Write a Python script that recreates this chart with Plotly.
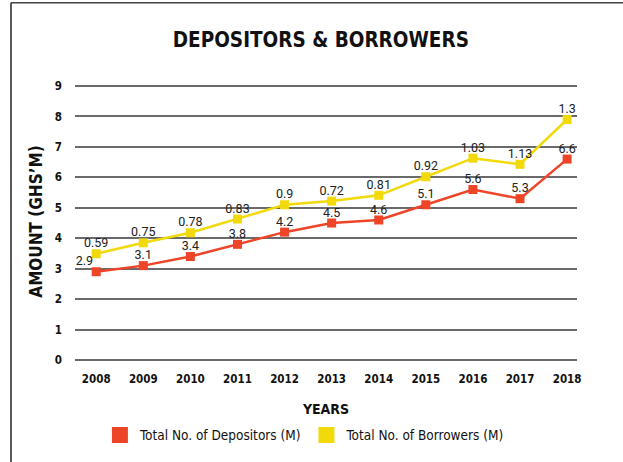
import plotly.graph_objects as go

years = ["2008", "2009", "2010", "2011", "2012", "2013", "2014", "2015", "2016", "2017", "2018"]
depositors = [2.9, 3.1, 3.4, 3.8, 4.2, 4.5, 4.6, 5.1, 5.6, 5.3, 6.6]
borrowers = [0.59, 0.75, 0.78, 0.83, 0.9, 0.72, 0.81, 0.92, 1.03, 1.13, 1.3]
y_ticks = [0, 1, 2, 3, 4, 5, 6, 7, 8, 9]

RED = "#EE4427"
YELLOW = "#F2D90A"
GRID = "#6a6a6a"
FONT = "DejaVu Sans Condensed, sans-serif"
LIGHT = "Roboto, DejaVu Sans Condensed, sans-serif"

# borrowers are stacked on top of depositors
stacked = [d + b for d, b in zip(depositors, borrowers)]

dep_pos = ["top left"] + ["top center"] * (len(years) - 1)

fig = go.Figure()
for ys, col in [(depositors, RED), (stacked, YELLOW)]:
    fig.add_trace(go.Scatter(
        x=years, y=ys, mode="lines+markers",
        line=dict(color=col, width=2.5),
        marker=dict(symbol="square", size=9, color=col),
        showlegend=False, cliponaxis=False, hoverinfo="skip",
    ))

# value labels (invisible small markers keep the text just above each point)
label_font = dict(family=LIGHT, size=12.5, color="#222")
for ys, vals, pos in [(depositors, depositors, dep_pos), (stacked, borrowers, "top center")]:
    fig.add_trace(go.Scatter(
        x=years, y=ys, mode="markers+text",
        marker=dict(size=3.5, opacity=0),
        text=[str(v) for v in vals], textposition=pos,
        textfont=label_font, showlegend=False, cliponaxis=False,
    ))

# legend entries with large square swatches
for name, col in [("Total No. of Depositors (M)", RED), ("Total No. of Borrowers (M)", YELLOW)]:
    fig.add_trace(go.Scatter(
        x=[None], y=[None], mode="markers", name=name,
        marker=dict(symbol="square", size=16, color=col),
    ))

# top grid line (topmost tick)
fig.add_shape(type="line", xref="paper", yref="y", layer="below",
              x0=0, x1=1, y0=y_ticks[-1], y1=y_ticks[-1],
              line=dict(color=GRID, width=1.5))

# frame lines on the left and top
fig.add_shape(type="line", xref="paper", yref="paper",
              x0=-0.1275, x1=-0.1275, y0=1.29, y1=-0.38,
              line=dict(color="#222", width=1.5))
fig.add_shape(type="line", xref="paper", yref="paper",
              x0=-0.1275, x1=1.2, y0=1.29, y1=1.29,
              line=dict(color="#444", width=1.5))

fig.update_layout(
    width=623, height=462,
    margin=dict(l=75, r=46, t=83, b=102),
    paper_bgcolor="white", plot_bgcolor="white",
    font=dict(family=FONT, color="#111"),
    title=dict(text="<b>DEPOSITORS & BORROWERS</b>", xref="container", x=0.515,
               xanchor="center", yref="container", y=0.913, yanchor="middle",
               font=dict(family=FONT, size=20.5, color="#111")),
    xaxis=dict(type="category", range=[-0.45, 10.21], showgrid=False,
               showline=False, ticks="", zeroline=False, automargin=False,
               ticklabelstandoff=10,
               tickfont=dict(family=FONT, size=11.5, color="#111", weight="bold"),
               title=dict(text="<b>YEARS</b>", font=dict(family=FONT, size=14, color="#111"),
                          standoff=19)),
    yaxis=dict(range=[0, 9.1], tickvals=y_ticks, showgrid=True, automargin=False,
               gridcolor=GRID, gridwidth=1.5, zeroline=True,
               zerolinecolor=GRID, zerolinewidth=1.5, ticks="",
               ticklabelstandoff=12,
               tickfont=dict(family=FONT, size=11.5, color="#111", weight="bold"),
               title=dict(text="<b>AMOUNT (GHS\u2019M)</b>",
                          font=dict(family=FONT, size=17, color="#111"), standoff=7)),
    legend=dict(orientation="h", x=0.458, xanchor="center",
                yref="container", y=0.058, yanchor="middle",
                font=dict(family=FONT, size=13.5, color="#111"),
                itemsizing="trace", tracegroupgap=0, itemwidth=30),
)

fig.write_html("out.html")
